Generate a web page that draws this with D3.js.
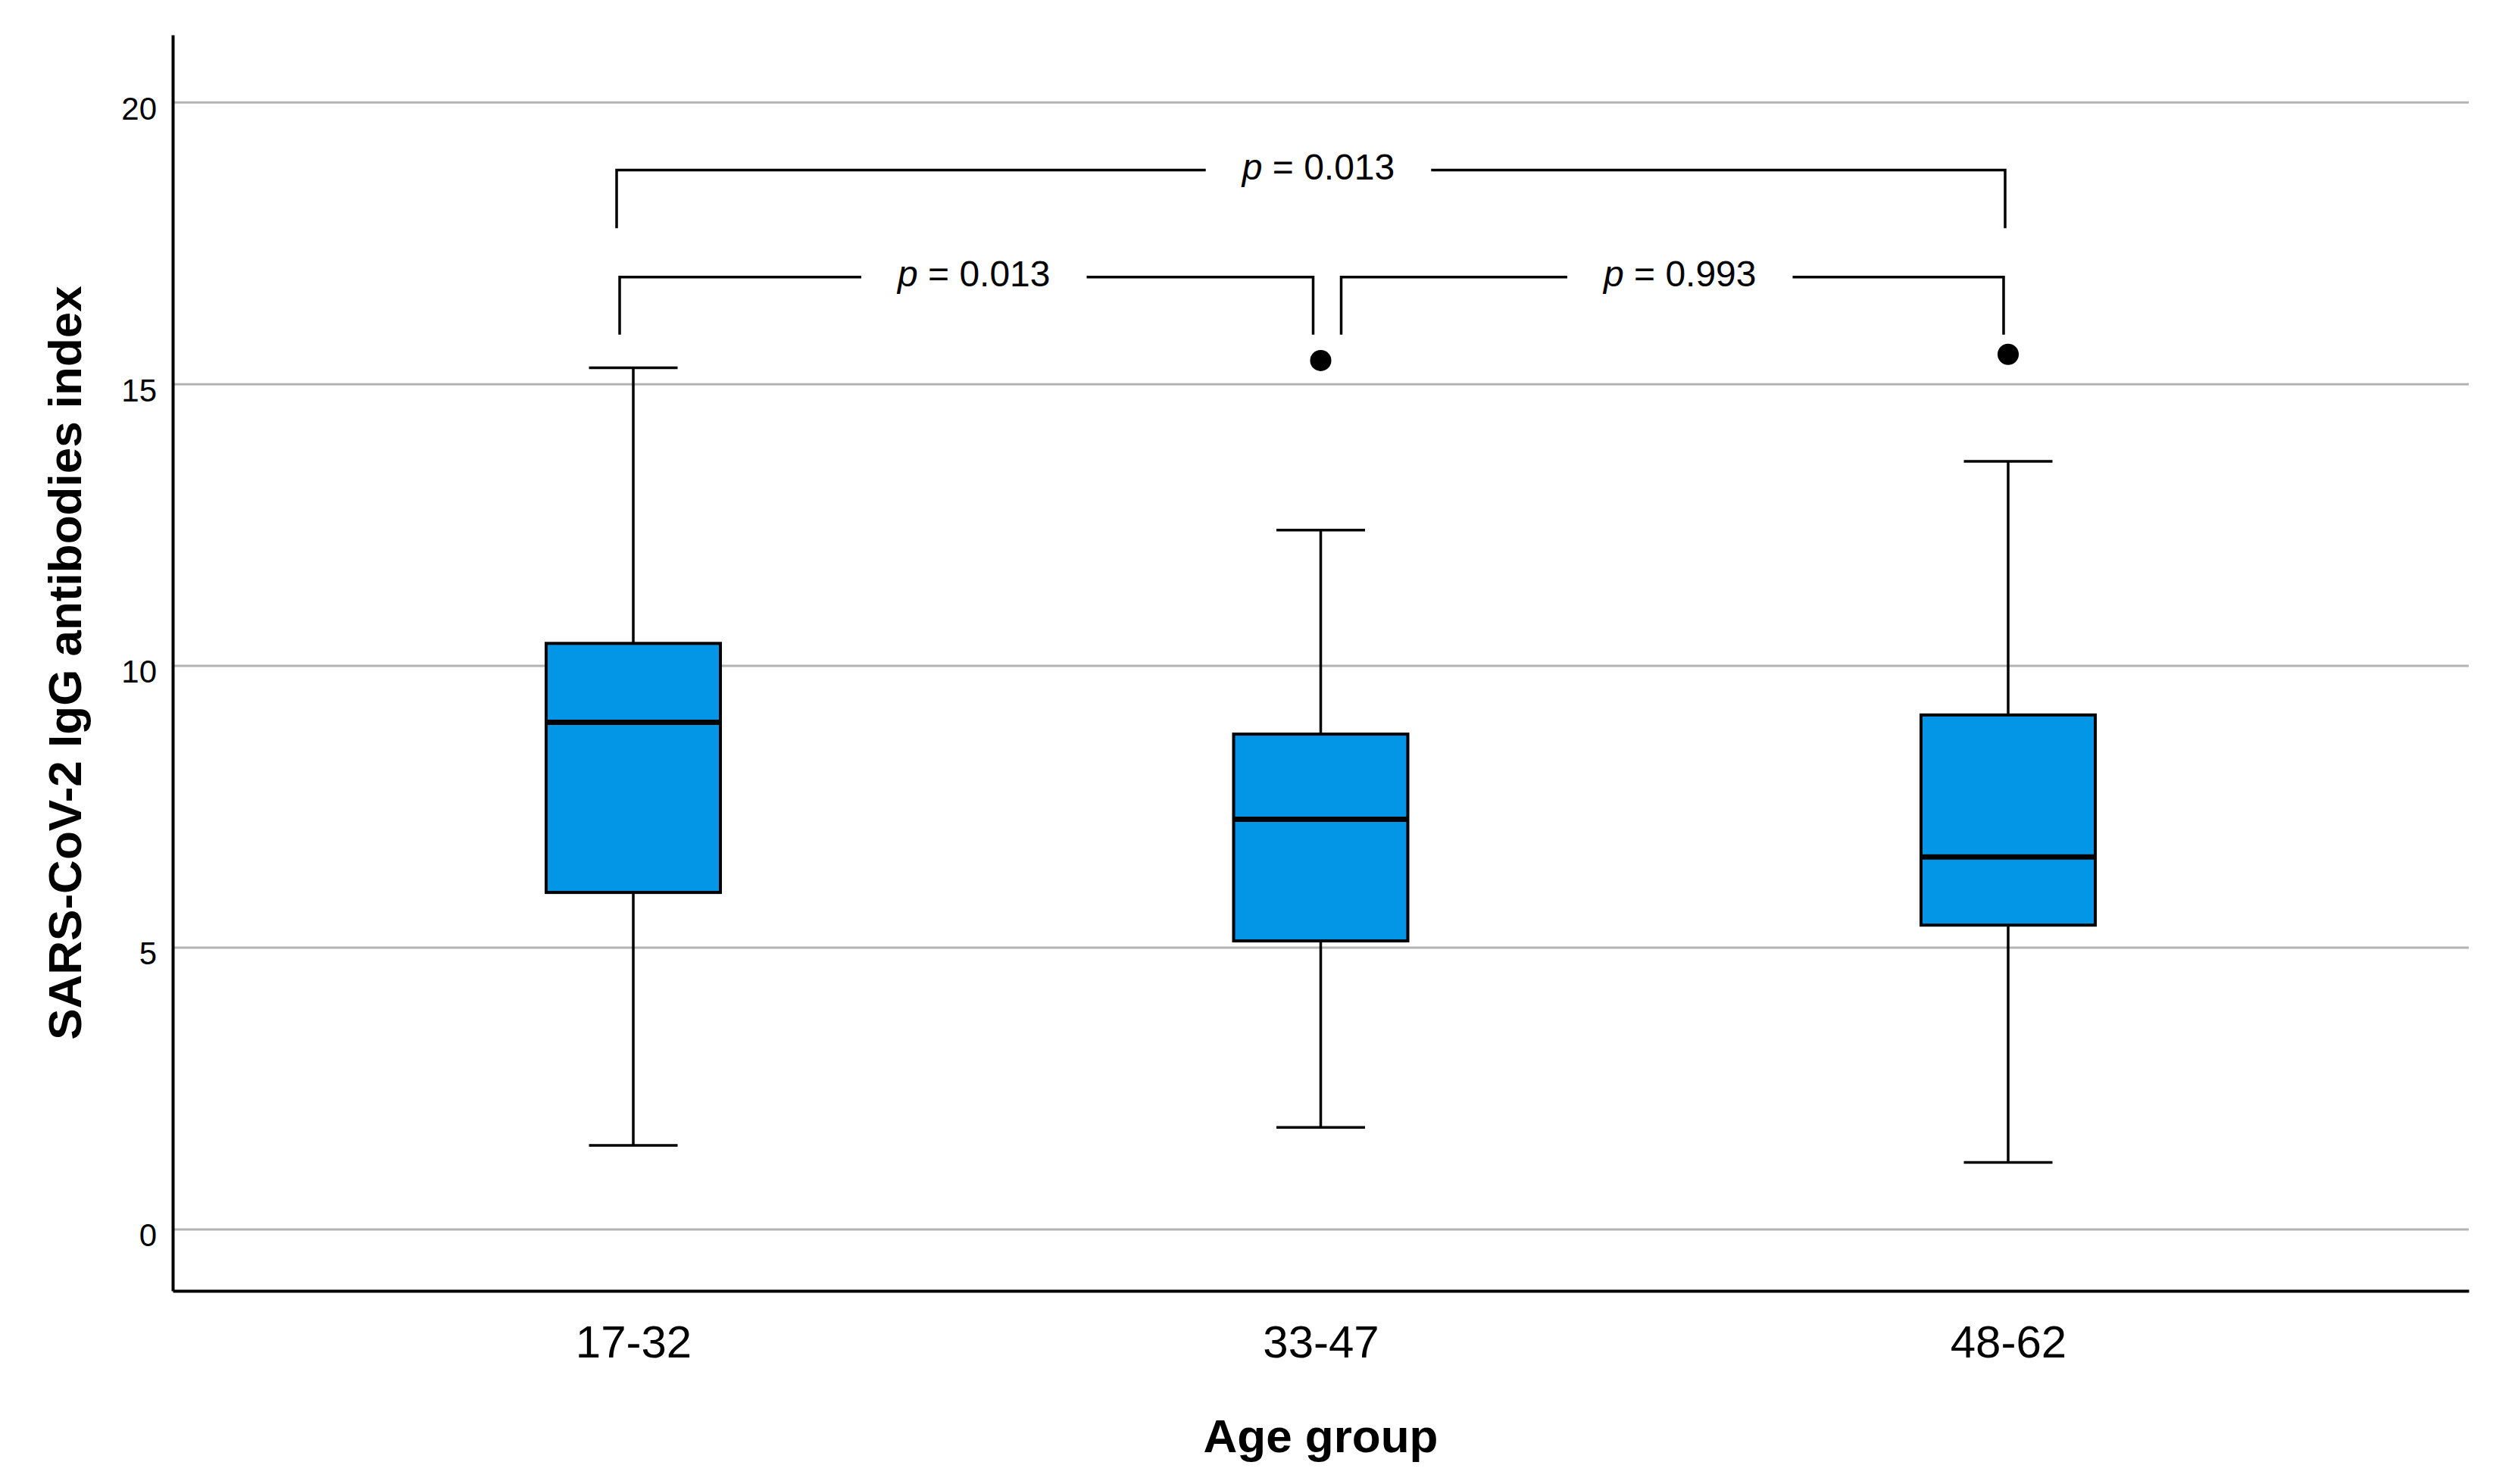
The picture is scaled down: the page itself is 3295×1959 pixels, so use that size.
<html>
    <head>
        <script type="text/javascript" src="https://d3js.org/d3.v7.min.js"></script>
        <style>
            body { margin: 0; background: #fff; }
            text { font-family: "Liberation Sans", Arial, sans-serif; }
        </style>
    </head>

    <body>
        <svg width="3295" height="1959"></svg>
        <script>
            // data
            var groups = ["17-32", "33-47", "48-62"];
            var whiskerLow = [1.49, 1.81, 1.19];
            var q1 = [5.98, 5.12, 5.40];
            var median = [9.0, 7.28, 6.61];
            var q3 = [10.40, 8.79, 9.13];
            var whiskerHigh = [15.29, 12.41, 13.63];
            var outlierGroup = ["33-47", "48-62"];
            var outlierValue = [15.42, 15.53];
            var yTicks = [0, 5, 10, 15, 20];

            // significance brackets
            var pairFrom = [0, 0, 1];
            var pairTo = [2, 1, 2];
            var pairLevel = [18.8, 16.9, 16.9];
            var pairLegEnd = [17.77, 15.88, 15.88];
            var pValues = ["0.013", "0.013", "0.993"];

            var svg = d3.select("svg");
            svg.append("rect").attr("width", 3295).attr("height", 1959).attr("fill", "#fff");

            // plot edges (window.top is reserved, so no "top" here)
            var plotLeft = 228, plotRight = 3259, plotTop = 46, plotBottom = 1704;

            var xScale = d3.scalePoint()
                .domain(groups)
                .range([plotLeft, plotRight])
                .padding(0.67);

            var yScale = d3.scaleLinear()
                .domain([-1.09, 21.2])
                .range([plotBottom, plotTop]);

            var boxW = 230, capW = 117;
            // small sideways shifts of the bracket legs, as in the picture
            var legShiftFrom = [-22, -18, 27];
            var legShiftTo = [-4, -10, -6];

            // gridlines
            svg.append("g").selectAll("line")
                .data(yTicks)
                .enter()
                .append("line")
                .attr("x1", plotLeft)
                .attr("x2", plotRight)
                .attr("y1", function(d){ return yScale(d); })
                .attr("y2", function(d){ return yScale(d); })
                .attr("stroke", "#b3b3b3")
                .attr("stroke-width", 3);

            // y axis
            var yAxis = d3.axisLeft(yScale).tickValues(yTicks).tickSize(0).tickSizeOuter(0).tickPadding(21);
            var gy = svg.append("g").attr("transform", "translate(" + plotLeft + ",0)").call(yAxis);
            gy.select(".domain").attr("stroke", "#000").attr("stroke-width", 4);
            gy.selectAll("text")
                .attr("font-size", 42)
                .attr("dy", "0.52em")
                .attr("fill", "#000")
                .style("font-family", "'Liberation Sans', Arial, sans-serif");

            // x axis
            var xAxis = d3.axisBottom(xScale).tickSize(0).tickSizeOuter(0).tickPadding(45);
            var gx = svg.append("g").attr("transform", "translate(0," + plotBottom + ")").call(xAxis);
            gx.select(".domain").attr("stroke", "#000").attr("stroke-width", 4);
            gx.selectAll("text")
                .attr("font-size", 60)
                .attr("fill", "#000")
                .style("font-family", "'Liberation Sans', Arial, sans-serif");

            // boxes
            var gs = svg.append("g").selectAll("g")
                .data(groups)
                .enter()
                .append("g");

            gs.append("line")
                .attr("x1", function(d){ return xScale(d); })
                .attr("x2", function(d){ return xScale(d); })
                .attr("y1", function(d, i){ return yScale(whiskerHigh[i]); })
                .attr("y2", function(d, i){ return yScale(whiskerLow[i]); })
                .attr("stroke", "#000")
                .attr("stroke-width", 3.5);

            gs.append("line")
                .attr("x1", function(d){ return xScale(d) - capW / 2; })
                .attr("x2", function(d){ return xScale(d) + capW / 2; })
                .attr("y1", function(d, i){ return yScale(whiskerHigh[i]); })
                .attr("y2", function(d, i){ return yScale(whiskerHigh[i]); })
                .attr("stroke", "#000")
                .attr("stroke-width", 3.5);

            gs.append("line")
                .attr("x1", function(d){ return xScale(d) - capW / 2; })
                .attr("x2", function(d){ return xScale(d) + capW / 2; })
                .attr("y1", function(d, i){ return yScale(whiskerLow[i]); })
                .attr("y2", function(d, i){ return yScale(whiskerLow[i]); })
                .attr("stroke", "#000")
                .attr("stroke-width", 3.5);

            gs.append("rect")
                .attr("x", function(d){ return xScale(d) - boxW / 2; })
                .attr("y", function(d, i){ return yScale(q3[i]); })
                .attr("width", boxW)
                .attr("height", function(d, i){ return yScale(q1[i]) - yScale(q3[i]); })
                .attr("fill", "#0396e6")
                .attr("stroke", "#000")
                .attr("stroke-width", 4);

            gs.append("line")
                .attr("x1", function(d){ return xScale(d) - boxW / 2; })
                .attr("x2", function(d){ return xScale(d) + boxW / 2; })
                .attr("y1", function(d, i){ return yScale(median[i]); })
                .attr("y2", function(d, i){ return yScale(median[i]); })
                .attr("stroke", "#000")
                .attr("stroke-width", 7);

            // outliers
            svg.append("g").selectAll("circle")
                .data(outlierGroup)
                .enter()
                .append("circle")
                .attr("cx", function(d){ return xScale(d); })
                .attr("cy", function(d, i){ return yScale(outlierValue[i]); })
                .attr("r", 14)
                .attr("fill", "#000");

            // brackets with p values
            var gb = svg.append("g");
            pValues.forEach(function(p, i){
                var x1 = xScale(groups[pairFrom[i]]) + legShiftFrom[i];
                var x2 = xScale(groups[pairTo[i]]) + legShiftTo[i];
                var yl = yScale(pairLevel[i]);
                var ye = yScale(pairLegEnd[i]);
                var xm = (x1 + x2) / 2 + 10;

                var t = gb.append("text")
                    .attr("x", xm)
                    .attr("y", yl + 12)
                    .attr("text-anchor", "middle")
                    .attr("font-size", 48)
                    .attr("fill", "#000");
                t.append("tspan").attr("font-style", "italic").text("p");
                t.append("tspan").text(" = " + p);

                var half = t.node().getComputedTextLength() / 2 + 48;

                gb.append("path")
                    .attr("d", "M" + x1 + "," + ye + "V" + yl + "H" + (xm - half))
                    .attr("fill", "none")
                    .attr("stroke", "#000")
                    .attr("stroke-width", 3.5);
                gb.append("path")
                    .attr("d", "M" + (xm + half) + "," + yl + "H" + x2 + "V" + ye)
                    .attr("fill", "none")
                    .attr("stroke", "#000")
                    .attr("stroke-width", 3.5);
            });

            // axis titles
            svg.append("text")
                .attr("x", (plotLeft + plotRight) / 2)
                .attr("y", 1917)
                .attr("text-anchor", "middle")
                .attr("font-size", 62)
                .attr("font-weight", "bold")
                .attr("fill", "#000")
                .text("Age group");

            svg.append("text")
                .attr("transform", "translate(107," + (plotTop + plotBottom) / 2 + ") rotate(-90)")
                .attr("text-anchor", "middle")
                .attr("font-size", 62)
                .attr("font-weight", "bold")
                .attr("fill", "#000")
                .text("SARS-CoV-2 IgG antibodies index");
        </script>
    </body>
</html>
